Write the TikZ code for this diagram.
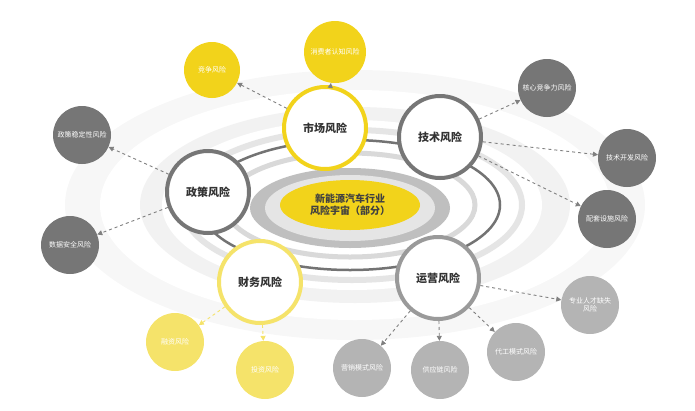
\documentclass[tikz,border=0pt]{standalone}
\usepackage{fontspec}
\newfontfamily\cjk{Noto Sans CJK SC}
\usetikzlibrary{arrows.meta,shapes.geometric}
\definecolor{yel}{HTML}{F2D31B}
\definecolor{pyel}{HTML}{F5E36A}
\definecolor{dg}{HTML}{767676}
\definecolor{mg}{HTML}{9A9A9A}
\definecolor{lg}{HTML}{B4B4B4}
\tikzset{
 main/.style={circle,fill=white,line width=4pt,minimum size=82pt,font=\cjk\fontsize{11}{13}\selectfont\bfseries,text=black!80},
 sat/.style={circle,minimum size=58pt,inner sep=0pt,font=\cjk\fontsize{7}{8.5}\selectfont,text=white,align=center},
 con/.style={-{Triangle[length=5pt,width=5pt]},dashed,line width=0.9pt,color=gray},
}
\begin{document}
\begin{tikzpicture}[x=1pt,y=-1pt]
\useasboundingbox (0,0) rectangle (695,410);
% background swirl rings
\fill[black!3] (355,205) ellipse [x radius=290,y radius=135];
\fill[white] (355,205) ellipse [x radius=255,y radius=115];
\fill[black!5] (355,205) ellipse [x radius=215,y radius=98];
\fill[white] (352,205) ellipse [x radius=190,y radius=85];
\draw[black!10,line width=6pt] (352,205) ellipse [x radius=170,y radius=75];
\draw[black!55,line width=2.5pt] (350,205) ellipse [x radius=150,y radius=65];
\draw[black!15,line width=5pt] (350,205) ellipse [x radius=125,y radius=52];
\fill[black!25] (350,208) ellipse [x radius=100,y radius=40];
\fill[black!10] (350,208) ellipse [x radius=85,y radius=33];
\node[ellipse,fill=yel,minimum width=140pt,minimum height=50pt,align=center,font=\cjk\fontsize{10}{12}\selectfont\bfseries,text=black!75,inner sep=0pt] (c) at (350,205) {新能源汽车行业\\风险宇宙（部分）};
% main nodes
\node[main,draw=yel] (sc) at (325,128) {市场风险};
\node[main,draw=dg] (js) at (440,137) {技术风险};
\node[main,draw=dg] (zc) at (208,192) {政策风险};
\node[main,draw=pyel] (cw) at (260,282) {财务风险};
\node[main,draw=mg] (yy) at (438,278) {运营风险};
% satellites
\node[sat,fill=yel,minimum size=56pt] (a1) at (212,70) {竞争风险};
\node[sat,fill=yel,minimum size=62pt] (a2) at (335,52) {消费者认知风险};
\node[sat,fill=dg] (b1) at (547,88) {核心竞争力风险};
\node[sat,fill=dg] (b2) at (627,158) {技术开发风险};
\node[sat,fill=dg] (b3) at (607,219) {配套设施风险};
\node[sat,fill=dg] (d1) at (82,135) {政策稳定性风险};
\node[sat,fill=dg] (d2) at (70,245) {数据安全风险};
\node[sat,fill=lg] (e1) at (590,305) {专业人才缺失\\风险};
\node[sat,fill=lg] (e2) at (516,352) {代工模式风险};
\node[sat,fill=lg] (e3) at (440,370) {供应链风险};
\node[sat,fill=lg] (e4) at (362,368) {营销模式风险};
\node[sat,fill=pyel] (f1) at (175,342) {融资风险};
\node[sat,fill=pyel] (f2) at (265,370) {投资风险};
% connectors
\draw[con] (sc) -- (a1);
\draw[con] (sc) -- (a2);
\draw[con] (js) -- (b1);
\draw[con] (js) -- (b2);
\draw[con] (js) -- (b3);
\draw[con] (zc) -- (d1);
\draw[con] (zc) -- (d2);
\draw[con] (yy) -- (e1);
\draw[con] (yy) -- (e2);
\draw[con] (yy) -- (e3);
\draw[con] (yy) -- (e4);
\draw[con,pyel] (cw) -- (f1);
\draw[con,pyel] (cw) -- (f2);
\end{tikzpicture}
\end{document}
